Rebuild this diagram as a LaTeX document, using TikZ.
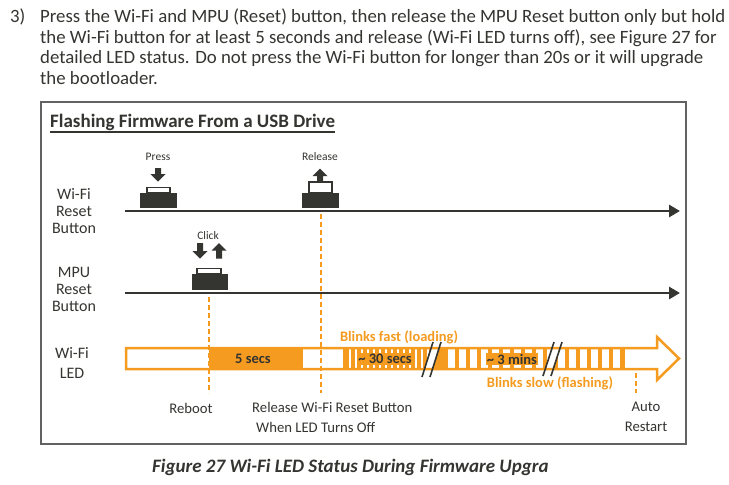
\documentclass[tikz,border=0pt]{standalone}
\usepackage{fontspec}
\setmainfont{Carlito}
\usetikzlibrary{arrows.meta}
\definecolor{Ink}{HTML}{343431}
\definecolor{Amber}{HTML}{F49B20}
\definecolor{Frame}{HTML}{626262}

\begin{document}
\begin{tikzpicture}[x=1pt,y=-1pt,
  lbl/.style={font=\fontsize{16}{17}\selectfont,text=Ink,align=center,inner sep=0pt},
  tiny/.style={font=\fontsize{11.5}{13}\selectfont,text=Ink,inner sep=0pt},
  tline/.style={line width=2.8pt,draw=Ink,-{Triangle[length=11pt,width=12pt]}},
  btn/.style={fill=Ink,inner sep=0pt},
  keycap/.style={draw=Ink,line width=1.2pt,fill=white},
  tick/.style={draw=Amber,line width=2pt,dash pattern=on 5pt off 3pt},
  ledtext/.style={font=\bfseries\fontsize{14.5}{16}\selectfont,text=Ink,fill=Amber,inner sep=1pt},
  note/.style={font=\bfseries\fontsize{14.5}{16}\selectfont,text=Amber,inner sep=0pt},
  slash/.style={draw=Ink,line width=1.6pt},
  foot/.style={font=\fontsize{14.7}{20}\selectfont,text=Ink,inner sep=0pt}]
\useasboundingbox (0,0) rectangle (729,485);
% instruction text
\node[anchor=base west,inner sep=0pt,font=\fontsize{18.8}{20.7}\selectfont,text=Ink](num) at (10,22){3)};
\node[anchor=north west,inner sep=0pt,align=left,font=\fontsize{18.8}{20.7}\selectfont,text=Ink](para) at (40,8.5){Press the Wi-Fi and MPU (Reset) button, then release the MPU Reset button only but hold\\the Wi-Fi button for at least 5 seconds and release (Wi-Fi LED turns off), see Figure 27 for\\detailed LED status. Do not press the Wi-Fi button for longer than 20s or it will upgrade\\the bootloader.};
% frame and title
\draw[Frame,line width=2pt](41,102) rectangle (686,444);
\node[anchor=base west,inner sep=0pt,font=\bfseries\fontsize{19}{21}\selectfont,text=Ink](title) at (50,127){Flashing Firmware From a USB Drive};
\draw[Ink,line width=1.3pt]([yshift=-5pt]title.base west)--([yshift=-5pt]title.base east);
% row labels
\node[lbl](wifibtn) at (74,211){Wi-Fi\\Reset\\Button};
\node[lbl](mpubtn) at (74,289){MPU\\Reset\\Button};
\node[lbl,font=\fontsize{16}{20}\selectfont](led) at (72,363){Wi-Fi\\LED};
% time lines
\coordinate(w0) at (125,211);\coordinate(w1) at (680,211);
\coordinate(m0) at (125,293);\coordinate(m1) at (680,293);
\draw[tline](w0)--(w1);\draw[tline](m0)--(m1);
% press
\node[btn,minimum width=37pt,minimum height=15pt](pressbtn) at (158.5,200.5){};
\draw[keycap](147,187.5) rectangle (170,193);
\fill[Ink](155,168)--(161,168)--(161,174)--(165.5,174)--(158,181.5)--(150.5,174)--(155,174)--cycle;
\node[tiny](press) at (158,157){Press};
% release
\node[btn,minimum width=37pt,minimum height=15pt](relbtn) at (320.5,200.5){};
\draw[keycap](309,182) rectangle (332,193);
\fill[Ink](317,181)--(323,181)--(323,176)--(327.5,176)--(320,168.5)--(312.5,176)--(317,176)--cycle;
\node[tiny](release) at (320,157){Release};
% click
\node[btn,minimum width=36pt,minimum height=16pt](clickbtn) at (210,282){};
\draw[keycap](197,268.5) rectangle (221,274);
\fill[Ink](197,243)--(203,243)--(203,251)--(207.5,251)--(200,258.5)--(192.5,251)--(197,251)--cycle;
\fill[Ink](216,258.5)--(222,258.5)--(222,250.5)--(226.5,250.5)--(219,243)--(211.5,250.5)--(216,250.5)--cycle;
\node[tiny](click) at (208,236){Click};
% LED bar
\fill[white](126,348)--(657,348)--(657,337)--(679,358.5)--(657,380)--(657,369)--(126,369)--cycle;
\fill[Amber](209,348) rectangle (303,369);
\fill[Amber](343,348) rectangle (432,369);
\foreach \x in {349,355,...,427}\fill[white](\x,348) rectangle ++(2,21);
\fill[Amber](432,348) rectangle (625,369);
\foreach \x in {448,459,...,613}\fill[white](\x,348) rectangle ++(7,21);
\fill[white](424.5,369)--(431.1,348)--(439.1,348)--(432.5,369)--cycle;
\fill[white](545.5,369)--(552.3,348)--(560.3,348)--(553.5,369)--cycle;
\draw[Amber,line width=2.5pt](126,348)--(657,348)--(657,337)--(679,358.5)--(657,380)--(657,369)--(126,369)--cycle;
\draw[slash](422,377)--(433,342);\draw[slash](430,377)--(441,342);
\draw[slash](543,376)--(554,342);\draw[slash](551,376)--(562,342);
\node[ledtext](hold) at (253,359){5 secs};
\node[ledtext](fast) at (385,359){\textasciitilde{} 30 secs};
\node[ledtext](slow) at (512,359){\textasciitilde{} 3 mins};
\node[note](loading) at (399,337){Blinks fast (loading)};
\node[note](flashing) at (550,383){Blinks slow (flashing)};
% event markers
\coordinate(rbTop) at (209,297);\coordinate(rbBot) at (209,393);
\coordinate(relTop) at (321,214);\coordinate(relBot) at (321,393);
\coordinate(arTop) at (636,373);\coordinate(arBot) at (636,393);
\draw[tick](rbTop)--(rbBot);\draw[tick](relTop)--(relBot);\draw[tick](arTop)--(arBot);
\node[foot](reboot) at (191,408){Reboot};
\node[foot,align=left,anchor=west](letgo) at (252,417){Release Wi-Fi Reset Button\\\hspace*{4pt}When LED Turns Off};
\node[foot,align=center](restart) at (646,417){Auto\\Restart};
% caption
\node[anchor=base west,inner sep=0pt,font=\bfseries\itshape\fontsize{19}{21}\selectfont,text=Ink](caption) at (152,472){Figure 27 Wi-Fi LED Status During Firmware Upgra};
\end{tikzpicture}
\end{document}
